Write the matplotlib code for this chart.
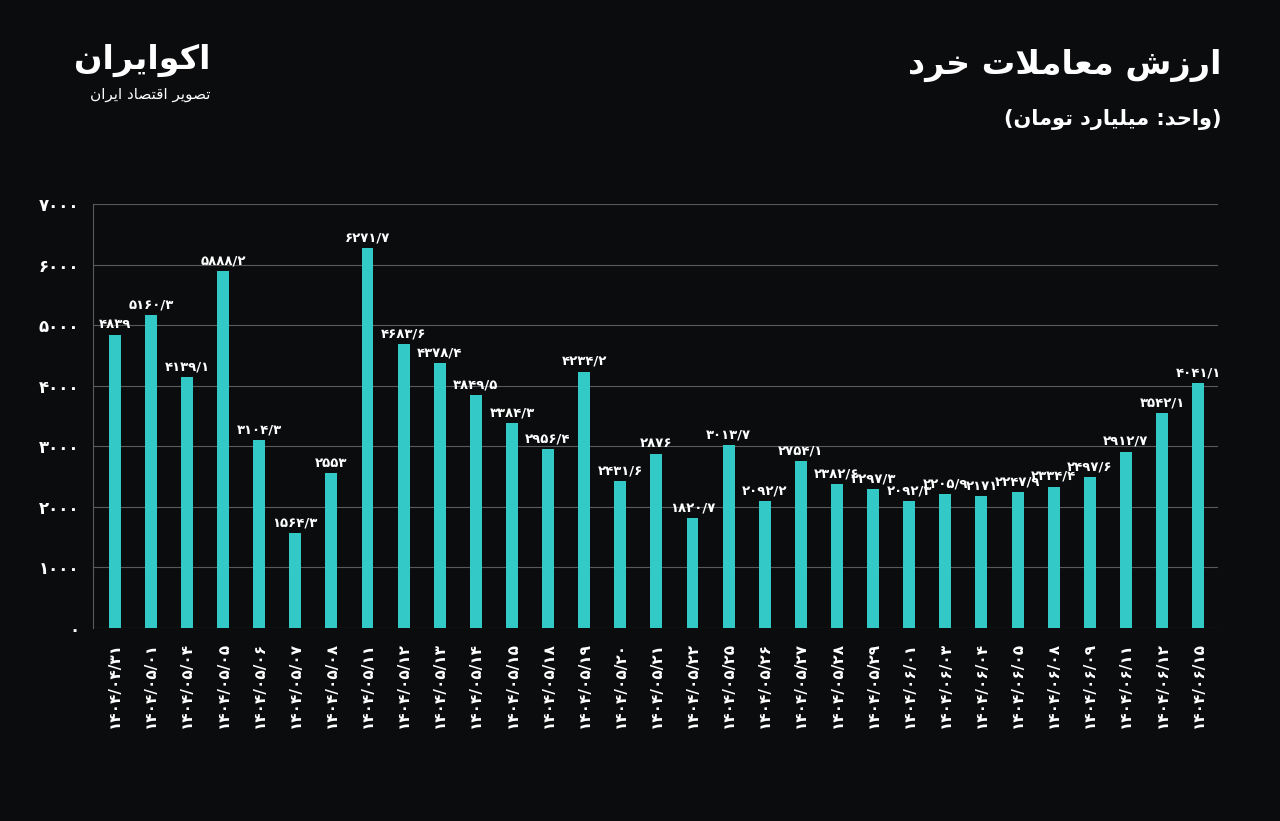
import matplotlib
matplotlib.use("Agg")
import matplotlib.pyplot as plt

dates = ["1404/04/31","1404/05/01","1404/05/04","1404/05/05","1404/05/06","1404/05/07","1404/05/08",
         "1404/05/11","1404/05/12","1404/05/13","1404/05/14","1404/05/15","1404/05/18","1404/05/19",
         "1404/05/20","1404/05/21","1404/05/22","1404/05/25","1404/05/26","1404/05/27","1404/05/28",
         "1404/05/29","1404/06/01","1404/06/03","1404/06/04","1404/06/05","1404/06/08","1404/06/09",
         "1404/06/11","1404/06/12","1404/06/15"]
values = [4839, 5160.3, 4139.1, 5888.2, 3104.3, 1564.3, 2553, 6271.7, 4683.6, 4378.4, 3849.5,
          3384.3, 2956.4, 4234.2, 2431.6, 2876, 1820.7, 3013.7, 2092.2, 2754.1, 2382.6, 2297.3,
          2092.3, 2205.9, 2171, 2247.9, 2334.4, 2497.6, 2912.7, 3542.1, 4041.1]
yticks = [0, 1000, 2000, 3000, 4000, 5000, 6000, 7000]

def fa(s):
    return str(s).translate(str.maketrans("0123456789.", "۰۱۲۳۴۵۶۷۸۹/"))

FORMS = {
 'ا':(0xFE8D,0xFE8E,None,None),'د':(0xFEA9,0xFEAA,None,None),'ر':(0xFEAD,0xFEAE,None,None),
 'ز':(0xFEAF,0xFEB0,None,None),'و':(0xFEED,0xFEEE,None,None),
 'ب':(0xFE8F,0xFE90,0xFE91,0xFE92),'ت':(0xFE95,0xFE96,0xFE97,0xFE98),'ح':(0xFEA1,0xFEA2,0xFEA3,0xFEA4),
 'خ':(0xFEA5,0xFEA6,0xFEA7,0xFEA8),'ش':(0xFEB5,0xFEB6,0xFEB7,0xFEB8),'ص':(0xFEB9,0xFEBA,0xFEBB,0xFEBC),
 'ع':(0xFEC9,0xFECA,0xFECB,0xFECC),'ف':(0xFED1,0xFED2,0xFED3,0xFED4),'ق':(0xFED5,0xFED6,0xFED7,0xFED8),
 'ل':(0xFEDD,0xFEDE,0xFEDF,0xFEE0),'م':(0xFEE1,0xFEE2,0xFEE3,0xFEE4),'ن':(0xFEE5,0xFEE6,0xFEE7,0xFEE8),
 'ه':(0xFEE9,0xFEEA,0xFEEB,0xFEEC),'پ':(0xFB56,0xFB57,0xFB58,0xFB59),'ک':(0xFB8E,0xFB8F,0xFB90,0xFB91),
 'ی':(0xFBFC,0xFBFD,0xFBFE,0xFBFF),
}
def shape(text):
    out = []
    i = 0
    chars = list(text)
    n = len(chars)
    def joins_next(c):
        return c in FORMS and FORMS[c][2] is not None
    while i < n:
        c = chars[i]
        prev = chars[i-1] if i > 0 else None
        pj = prev is not None and joins_next(prev)
        if c == 'ل' and i+1 < n and chars[i+1] == 'ا':
            out.append(chr(0xFEFC if pj else 0xFEFB)); i += 2; continue
        if c not in FORMS:
            out.append(c); i += 1; continue
        nxt = chars[i+1] if i+1 < n else None
        nj = nxt is not None and nxt in FORMS and joins_next(c)
        iso, fin, ini, med = FORMS[c]
        if pj and nj: out.append(chr(med))
        elif pj: out.append(chr(fin))
        elif nj: out.append(chr(ini))
        else: out.append(chr(iso))
        i += 1
    s = "".join(out)[::-1]
    return s.translate(str.maketrans("()", ")("))

BG = "#0b0c0d"
BAR = "#33c9c6"
fig = plt.figure(figsize=(12.8, 8.21), dpi=100, facecolor=BG)
ax = fig.add_axes([93/1280, 1-628/821, (1218-93)/1280, (628-204)/821], facecolor=BG)
x = list(range(len(values)))
ax.bar(x, values, width=0.33, color=BAR, zorder=3)
for xi, v in zip(x, values):
    ax.text(xi, v + 60, fa(v), color="white", ha="center", va="bottom", fontsize=9.5,
            fontweight="bold", family="DejaVu Sans", zorder=4)
ax.set_xlim(-0.6, len(values) - 0.45)
ax.set_ylim(0, 7000)
ax.set_yticks(yticks)
ax.set_yticklabels([fa(t) for t in yticks], color="white", fontsize=12, fontweight="bold")
ax.set_xticks(x)
ax.set_xticklabels([fa(d) for d in dates], rotation=90, color="white", fontsize=11, fontweight="bold")
ax.tick_params(length=0, pad=10)
ax.yaxis.grid(True, color="#5a5a5a", linewidth=0.8, zorder=0)
for s in ["top", "right", "bottom"]:
    ax.spines[s].set_visible(False)
ax.spines["left"].set_color("#5a5a5a")

fig.text(1222/1280, 1-65/821, shape("ارزش معاملات خرد"), color="white", fontsize=24,
         fontweight="bold", ha="right", va="center")
fig.text(1222/1280, 1-119/821, shape("(واحد: میلیارد تومان)"), color="white", fontsize=15,
         fontweight="bold", ha="right", va="center")
fig.text(210/1280, 1-60/821, shape("اکوایران"), color="white", fontsize=24,
         fontweight="bold", ha="right", va="center")
fig.text(210/1280, 1-94/821, shape("تصویر اقتصاد ایران"), color="white", fontsize=11,
         ha="right", va="center")
fig.savefig("out.png", dpi=100, facecolor=BG)
